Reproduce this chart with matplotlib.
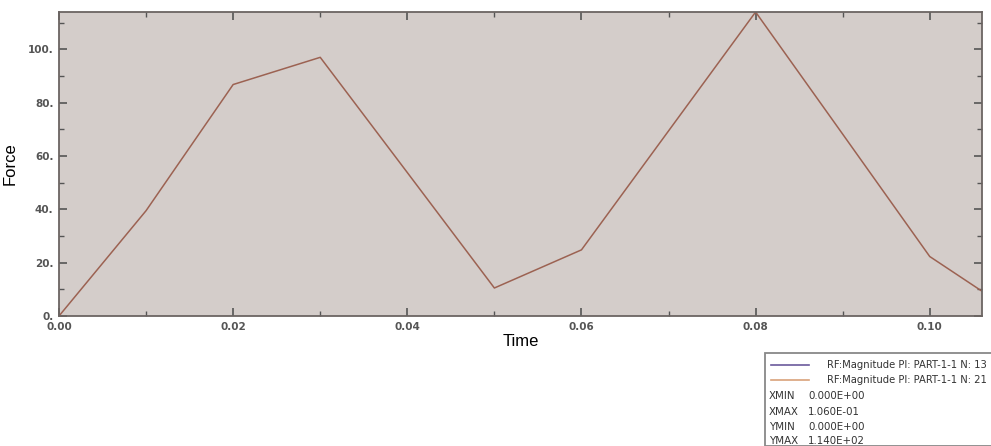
import matplotlib
matplotlib.use("Agg")
import matplotlib.pyplot as plt
from matplotlib.ticker import MultipleLocator, FormatStrFormatter
from matplotlib.patches import Rectangle
from matplotlib.lines import Line2D

# data
time = [0.00, 0.01, 0.02, 0.03, 0.04, 0.05, 0.06, 0.07, 0.08, 0.09, 0.10, 0.106]
force = [0.0, 39.5, 86.8, 97.0, 53.8, 10.5, 24.8, 69.4, 114.0, 68.2, 22.3, 9.3]

legend_labels = ["RF:Magnitude PI: PART-1-1 N: 13", "RF:Magnitude PI: PART-1-1 N: 21"]
legend_colors = ["#6b5a9c", "#d9a27a"]
stats = [("XMIN", "0.000E+00"), ("XMAX", "1.060E-01"),
         ("YMIN", "0.000E+00"), ("YMAX", "1.140E+02")]

W, H = 991, 446
fig = plt.figure(figsize=(W / 100, H / 100), dpi=100)
ax = fig.add_axes([59 / W, 1 - 316 / H, 923 / W, 304 / H])
ax.set_facecolor("#d4cdca")

ax.plot(time, force, color="#9c6252", lw=1.1)
ax.set_xlim(0, 0.106)
ax.set_ylim(0, 114)

ax.xaxis.set_major_locator(MultipleLocator(0.02))
ax.xaxis.set_minor_locator(MultipleLocator(0.01))
ax.yaxis.set_major_locator(MultipleLocator(20))
ax.yaxis.set_minor_locator(MultipleLocator(10))
ax.xaxis.set_major_formatter(FormatStrFormatter("%.2f"))
ax.yaxis.set_major_formatter(FormatStrFormatter("%d."))

tick_col = "#555555"
ax.tick_params(which="both", direction="in", top=True, right=True,
               color=tick_col, labelcolor="#555555", labelsize=7.5)
ax.tick_params(which="major", length=6, width=1.2, pad=4)
ax.tick_params(which="minor", length=3.5, width=1)
for lab in ax.get_xticklabels() + ax.get_yticklabels():
    lab.set_fontweight("bold")
for s in ax.spines.values():
    s.set_color("#6b6462")
    s.set_linewidth(1.3)

ax.set_xlabel("Time", fontsize=12, family="Liberation Sans", labelpad=2)
ax.set_ylabel("Force", fontsize=12, family="Liberation Sans")
ax.yaxis.set_label_coords(-0.045, 0.5)

# info box under the plot, running to the right edge
box = Rectangle((765 / W, 0), 0.5, (H - 353) / H, transform=fig.transFigure,
                facecolor="white", edgecolor="#888888", lw=1.3, clip_on=False)
fig.add_artist(box)
rows_y = [365, 380, 396, 412, 427, 441]
for lbl, col, y in zip(legend_labels, legend_colors, rows_y[:2]):
    fig.add_artist(Line2D([771 / W, 809 / W], [1 - y / H, 1 - y / H],
                          color=col, lw=1.2, transform=fig.transFigure))
    fig.text(827 / W, 1 - y / H, lbl, fontsize=7.2, color="#333333",
             va="center", ha="left")
for (name, val), y in zip(stats, rows_y[2:]):
    fig.text(769 / W, 1 - y / H, name, fontsize=7.4, color="#333333",
             va="center", ha="left")
    fig.text(808 / W, 1 - y / H, val, fontsize=7.4, color="#333333",
             va="center", ha="left")

fig.savefig("out.png", dpi=100, facecolor="white")
